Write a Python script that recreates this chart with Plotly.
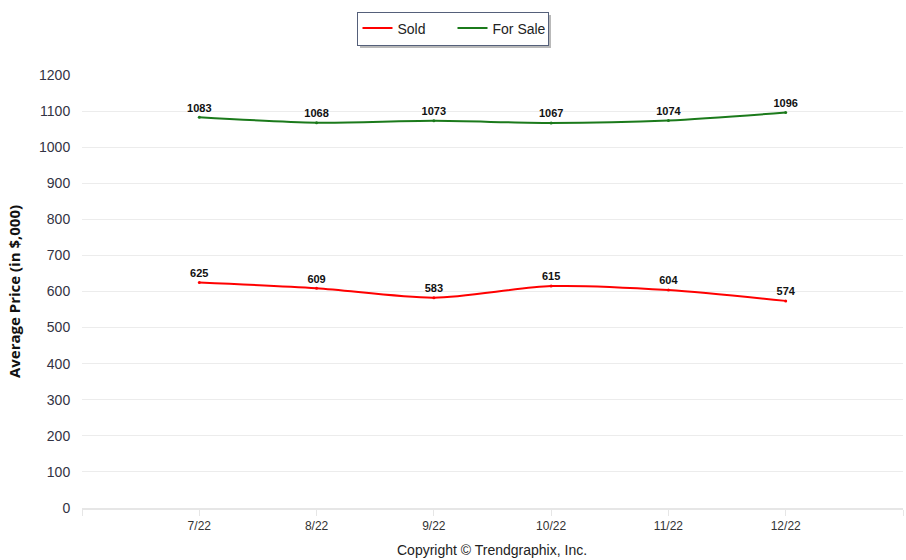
import plotly.graph_objects as go

months = ["7/22", "8/22", "9/22", "10/22", "11/22", "12/22"]
sold = [625, 609, 583, 615, 604, 574]
for_sale = [1083, 1068, 1073, 1067, 1074, 1096]
y_ticks = list(range(0, 1300, 100))

xs = list(range(len(months)))
label_font = dict(family="Liberation Sans Narrow, Liberation Sans, Arial", size=11, color="#111111", weight="bold")

fig = go.Figure()
series = [("Sold", sold, "#ff0000"), ("For Sale", for_sale, "#1b7a1b")]
for name, vals, col in series:
    fig.add_trace(go.Scatter(
        x=xs, y=vals, name=name, mode="lines+markers+text", showlegend=False,
        line=dict(color=col, width=2, shape="spline", smoothing=0.8),
        marker=dict(size=3, color=col),
        text=[str(v) for v in vals], textposition="top center",
        textfont=label_font,
    ))
for name, vals, col in series:
    fig.add_trace(go.Scatter(
        x=[None], y=[None], name=name, mode="lines",
        line=dict(color=col, width=2),
    ))

tickvals = [-1] + xs + [len(months)]
ticktext = [""] + months + [""]

fig.update_layout(
    width=906, height=560,
    margin=dict(l=82, r=3, t=75, b=52, autoexpand=False),
    paper_bgcolor="white", plot_bgcolor="white",
    font=dict(family="Liberation Sans, Arial", size=13, color="#333333"),
    showlegend=True,
    legend=dict(
        orientation="h", x=(452.5 - 82) / 821, xanchor="center", y=(508 - 28.5) / 433, yanchor="middle",
        xref="paper", yref="paper",
        bordercolor="#55607a", borderwidth=1, bgcolor="white",
        font=dict(family="Liberation Sans, Arial", size=14, color="#222222"),
        entrywidth=50, entrywidthmode="pixels",
    ),
    xaxis=dict(
        range=[-1, len(months)], tickvals=tickvals, ticktext=ticktext,
        showgrid=False, zeroline=False,
        showline=True, linecolor="#e6e6e6", linewidth=2,
        ticks="outside", ticklen=6, tickcolor="#e6e6e6",
        tickfont=dict(family="Liberation Sans Narrow, Liberation Sans, Arial", size=12, color="#333333"),
    ),
    yaxis=dict(
        range=[0, 1200], tickvals=y_ticks,
        showgrid=True, gridcolor="#ececec", gridwidth=1,
        zeroline=False, showline=False,
        ticks="outside", ticklen=8, tickcolor="white",
        tickfont=dict(family="Liberation Sans Narrow, Liberation Sans, Arial", size=14, color="#333344"),
        title=dict(text="Average Price (in $,000)", standoff=14,
                   font=dict(family="Open Sans, DejaVu Sans", size=15, color="#111111", weight="bold")),
    ),
)

# legend shadow
fig.add_shape(type="rect", xref="paper", yref="paper",
              x0=(360 - 82) / 821, x1=(551 - 82) / 821,
              y0=(508 - 48) / 433, y1=(508 - 15) / 433,
              fillcolor="#8a8a8a", line=dict(width=0), layer="below", opacity=0.6)

fig.add_annotation(text="Copyright © Trendgraphix, Inc.", xref="paper", yref="paper",
                   x=(492 - 82) / 821, y=-(550 - 508) / 433, xanchor="center", yanchor="middle",
                   showarrow=False, font=dict(family="Liberation Sans, Arial", size=14, color="#222222"))

fig.write_html("out.html")
